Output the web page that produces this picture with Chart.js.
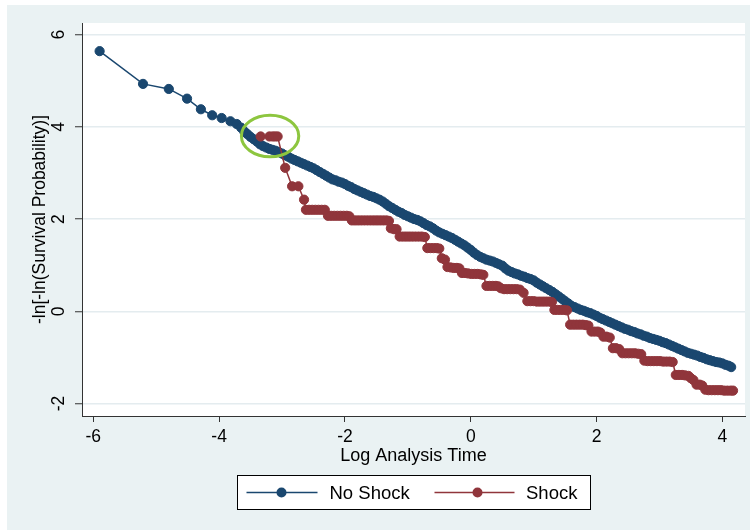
<!DOCTYPE html>
<html>
<head>
<meta charset="utf-8">
<title>Log-log survival plot</title>
<script src="https://cdn.jsdelivr.net/npm/chart.js@4.4.1/dist/chart.umd.min.js"></script>
<style>
  html, body { margin: 0; padding: 0; background: #fff; }
  #wrap { width: 752px; height: 531px; }
</style>
</head>
<body>
<div id="wrap"><canvas id="llChart" width="752" height="531"></canvas></div>
<script>
// ── Data ───────────────────────────────────────────────────
const xTicks = [-6, -4, -2, 0, 2, 4];
const yTicks = [-2, 0, 2, 4, 6];

const noShockX = [
  -5.90, -5.21, -4.80, -4.51, -4.29, -4.11, -3.96, -3.82, -3.72, -3.65,
  -3.60, -3.55, -3.50, -3.45, -3.40, -3.35, -3.30, -3.25, -3.20, -3.15,
  -3.10, -3.05, -3.00, -2.95, -2.90, -2.85, -2.80, -2.75, -2.70, -2.65,
  -2.60, -2.55, -2.50, -2.45, -2.40, -2.35, -2.30, -2.25, -2.20, -2.15,
  -2.10, -2.05, -2.00, -1.95, -1.90, -1.85, -1.80, -1.75, -1.70, -1.65,
  -1.60, -1.55, -1.50, -1.45, -1.40, -1.35, -1.30, -1.25, -1.20, -1.15,
  -1.10, -1.05, -1.00, -0.95, -0.90, -0.85, -0.80, -0.75, -0.70, -0.65,
  -0.60, -0.55, -0.50, -0.45, -0.40, -0.35, -0.30, -0.25, -0.20, -0.15,
  -0.10, -0.05, 0.00, 0.05, 0.10, 0.15, 0.20, 0.25, 0.30, 0.35,
  0.40, 0.45, 0.50, 0.55, 0.60, 0.65, 0.70, 0.75, 0.80, 0.85,
  0.90, 0.95, 1.00, 1.05, 1.10, 1.15, 1.20, 1.25, 1.30, 1.35,
  1.40, 1.45, 1.50, 1.55, 1.60, 1.65, 1.70, 1.75, 1.80, 1.85,
  1.90, 1.95, 2.00, 2.05, 2.10, 2.15, 2.20, 2.25, 2.30, 2.35,
  2.40, 2.45, 2.50, 2.55, 2.60, 2.65, 2.70, 2.75, 2.80, 2.85,
  2.90, 2.95, 3.00, 3.05, 3.10, 3.15, 3.20, 3.25, 3.30, 3.35,
  3.40, 3.45, 3.50, 3.55, 3.60, 3.65, 3.70, 3.75, 3.80, 3.85,
  3.90, 3.95, 4.00, 4.05, 4.10, 4.14
];
const noShockY = [
  5.64, 4.93, 4.82, 4.61, 4.38, 4.25, 4.19, 4.12, 4.06, 3.98,
  3.90, 3.84, 3.78, 3.73, 3.68, 3.62, 3.58, 3.55, 3.52, 3.50,
  3.48, 3.45, 3.42, 3.38, 3.35, 3.31, 3.28, 3.25, 3.22, 3.19,
  3.16, 3.13, 3.10, 3.06, 3.02, 2.98, 2.94, 2.90, 2.86, 2.84,
  2.81, 2.79, 2.76, 2.72, 2.69, 2.65, 2.62, 2.59, 2.56, 2.53,
  2.50, 2.48, 2.45, 2.42, 2.38, 2.33, 2.28, 2.24, 2.20, 2.16,
  2.13, 2.09, 2.06, 2.03, 2.00, 1.98, 1.95, 1.91, 1.87, 1.84,
  1.80, 1.75, 1.71, 1.68, 1.65, 1.62, 1.59, 1.55, 1.51, 1.47,
  1.43, 1.38, 1.33, 1.27, 1.22, 1.18, 1.15, 1.12, 1.10, 1.08,
  1.05, 1.02, 0.99, 0.93, 0.88, 0.85, 0.82, 0.80, 0.77, 0.75,
  0.72, 0.70, 0.67, 0.62, 0.58, 0.54, 0.50, 0.46, 0.42, 0.37,
  0.32, 0.27, 0.22, 0.17, 0.12, 0.09, 0.06, 0.03, 0.01, -0.02,
  -0.04, -0.07, -0.10, -0.14, -0.17, -0.20, -0.23, -0.26, -0.29, -0.32,
  -0.35, -0.38, -0.40, -0.43, -0.45, -0.48, -0.50, -0.53, -0.55, -0.58,
  -0.60, -0.62, -0.64, -0.67, -0.69, -0.72, -0.75, -0.78, -0.81, -0.84,
  -0.87, -0.90, -0.92, -0.94, -0.96, -0.99, -1.01, -1.04, -1.06, -1.08,
  -1.10, -1.11, -1.13, -1.16, -1.18, -1.21
];

const shockX = [
  -3.34, -3.20, -3.15, -3.11, -3.07, -2.95, -2.84, -2.74, -2.65, -2.62,
  -2.57, -2.52, -2.47, -2.42, -2.37, -2.32, -2.27, -2.22, -2.17, -2.12,
  -2.07, -2.02, -1.97, -1.93, -1.89, -1.84, -1.79, -1.74, -1.69, -1.64,
  -1.59, -1.54, -1.49, -1.44, -1.39, -1.34, -1.30, -1.27, -1.22, -1.18,
  -1.13, -1.08, -1.03, -0.98, -0.93, -0.88, -0.83, -0.78, -0.73, -0.69,
  -0.64, -0.59, -0.54, -0.50, -0.46, -0.41, -0.37, -0.32, -0.27, -0.22,
  -0.18, -0.14, -0.09, -0.04, 0.01, 0.06, 0.11, 0.16, 0.20, 0.25,
  0.30, 0.35, 0.40, 0.44, 0.48, 0.53, 0.58, 0.63, 0.68, 0.73,
  0.78, 0.84, 0.90, 0.95, 1.00, 1.05, 1.10, 1.15, 1.20, 1.25,
  1.29, 1.33, 1.38, 1.43, 1.48, 1.53, 1.58, 1.63, 1.68, 1.73,
  1.78, 1.83, 1.87, 1.92, 1.97, 2.02, 2.06, 2.11, 2.16, 2.21,
  2.26, 2.31, 2.36, 2.41, 2.46, 2.51, 2.56, 2.61, 2.66, 2.71,
  2.76, 2.81, 2.86, 2.91, 2.96, 3.01, 3.06, 3.11, 3.16, 3.21,
  3.26, 3.31, 3.36, 3.41, 3.46, 3.50, 3.54, 3.59, 3.64, 3.68,
  3.73, 3.78, 3.83, 3.88, 3.93, 3.98, 4.03, 4.08, 4.13, 4.17
];
const shockY = [
  3.79, 3.79, 3.79, 3.79, 3.79, 3.11, 2.71, 2.71, 2.42, 2.20,
  2.20, 2.20, 2.20, 2.20, 2.20, 2.20, 2.07, 2.07, 2.07, 2.07,
  2.07, 2.07, 2.07, 2.06, 1.97, 1.97, 1.97, 1.97, 1.97, 1.97,
  1.97, 1.97, 1.97, 1.97, 1.97, 1.97, 1.96, 1.80, 1.78, 1.78,
  1.62, 1.62, 1.62, 1.62, 1.62, 1.62, 1.62, 1.62, 1.61, 1.37,
  1.37, 1.37, 1.37, 1.36, 1.15, 1.12, 0.96, 0.95, 0.94, 0.94,
  0.93, 0.83, 0.83, 0.82, 0.81, 0.81, 0.81, 0.80, 0.79, 0.55,
  0.55, 0.55, 0.55, 0.54, 0.50, 0.48, 0.48, 0.48, 0.48, 0.48,
  0.47, 0.40, 0.22, 0.22, 0.22, 0.21, 0.21, 0.21, 0.21, 0.21,
  0.20, 0.03, 0.03, 0.03, 0.03, 0.02, -0.29, -0.29, -0.29, -0.29,
  -0.29, -0.30, -0.31, -0.44, -0.44, -0.44, -0.46, -0.55, -0.55, -0.57,
  -0.80, -0.80, -0.82, -0.91, -0.91, -0.91, -0.91, -0.91, -0.92, -0.93,
  -1.07, -1.08, -1.08, -1.08, -1.08, -1.08, -1.09, -1.09, -1.09, -1.10,
  -1.38, -1.38, -1.38, -1.39, -1.40, -1.45, -1.49, -1.59, -1.59, -1.61,
  -1.70, -1.71, -1.71, -1.71, -1.71, -1.71, -1.72, -1.72, -1.72, -1.72
];

// highlighted region (data units)
const marker = { x: -3.19, y: 3.80, rx: 0.456, ry: 0.45 };

// ── Colours ────────────────────────────────────────────────
const NAVY = '#1a476f';
const MAROON = '#90353b';
const BG = '#eaf2f3';
const GRID = '#e4ecef';
const AXIS = '#333';
const GREEN = '#8dc63f';

Chart.defaults.font.family = "'Liberation Sans', Arial, sans-serif";
Chart.defaults.color = '#000';

const toPts = (xs, ys) => xs.map((x, i) => ({ x, y: ys[i] }));

// ── Plugins ────────────────────────────────────────────────
const backdrop = {
  id: 'backdrop',
  beforeDraw(chart) {
    const { ctx, chartArea: a } = chart;
    ctx.save();
    ctx.fillStyle = '#fff';
    ctx.fillRect(0, 0, chart.width, chart.height);
    ctx.fillStyle = BG;
    ctx.fillRect(7, 5, chart.width - 9, chart.height - 6);
    ctx.fillStyle = '#fff';
    ctx.fillRect(a.left, a.top, a.right - a.left, a.bottom - a.top);
    ctx.restore();
  }
};

// y tick labels are drawn turned, as in the original
const yLabels = {
  id: 'yLabels',
  afterDraw(chart) {
    const s = chart.scales.y, ctx = chart.ctx;
    ctx.save();
    ctx.font = "17.5px 'Liberation Sans', Arial, sans-serif";
    ctx.fillStyle = '#000';
    ctx.textAlign = 'center';
    ctx.textBaseline = 'middle';
    s.ticks.forEach(t => {
      ctx.save();
      ctx.translate(s.right - 22.5, s.getPixelForValue(t.value));
      ctx.rotate(-Math.PI / 2);
      ctx.fillText(String(t.value), 0, 0);
      ctx.restore();
    });
    ctx.restore();
  }
};

const ring = {
  id: 'ring',
  afterDatasetsDraw(chart) {
    const { ctx, scales: { x, y } } = chart;
    const cx = x.getPixelForValue(marker.x);
    const cy = y.getPixelForValue(marker.y);
    const rx = x.getPixelForValue(marker.x + marker.rx) - cx;
    const ry = cy - y.getPixelForValue(marker.y + marker.ry);
    ctx.save();
    ctx.strokeStyle = GREEN;
    ctx.lineWidth = 3;
    ctx.beginPath();
    ctx.ellipse(cx, cy, rx, ry, 0, 0, Math.PI * 2);
    ctx.stroke();
    ctx.restore();
  }
};

const keyBox = {
  id: 'keyBox',
  afterDraw(chart) {
    const { ctx, chartArea: a } = chart;
    const w = 353, h = 34;
    const left = Math.round((a.left + a.right) / 2 - w / 2) + 0.5;
    const top = 475.5;
    const cy = top + h / 2;
    ctx.save();
    ctx.fillStyle = '#fff';
    ctx.fillRect(left, top, w, h);
    ctx.strokeStyle = '#000';
    ctx.lineWidth = 1;
    ctx.strokeRect(left, top, w, h);
    const items = [
      { label: 'No Shock', color: NAVY, x0: 9, x1: 80, dot: 44, tx: 92 },
      { label: 'Shock', color: MAROON, x0: 197, x1: 277, dot: 240, tx: 288.5 }
    ];
    ctx.font = "18.5px 'Liberation Sans', Arial, sans-serif";
    ctx.textBaseline = 'middle';
    items.forEach(it => {
      ctx.strokeStyle = it.color;
      ctx.lineWidth = 1.4;
      ctx.beginPath();
      ctx.moveTo(left + it.x0, cy);
      ctx.lineTo(left + it.x1, cy);
      ctx.stroke();
      ctx.fillStyle = it.color;
      ctx.beginPath();
      ctx.arc(left + it.dot, cy, 5, 0, Math.PI * 2);
      ctx.fill();
      ctx.fillStyle = '#000';
      ctx.fillText(it.label, left + it.tx, cy + 1);
    });
    ctx.restore();
  }
};

// ── Chart ──────────────────────────────────────────────────
const series = (label, xs, ys, color) => ({
  label,
  data: toPts(xs, ys),
  borderColor: color,
  backgroundColor: color,
  borderWidth: 1.5,
  pointRadius: 4.6,
  pointBorderWidth: 1,
  pointBackgroundColor: color,
  pointBorderColor: color,
  showLine: true,
  tension: 0,
});

new Chart(document.getElementById('llChart'), {
  type: 'scatter',
  data: {
    datasets: [
      series('Shock', shockX, shockY, MAROON),
      series('No Shock', noShockX, noShockY, NAVY)
    ]
  },
  options: {
    responsive: false,
    animation: false,
    layout: { padding: { left: 0, top: 23, right: 7, bottom: 62 } },
    plugins: { legend: { display: false }, tooltip: { enabled: false } },
    scales: {
      x: {
        type: 'linear',
        min: -6.18, max: 4.36,
        afterBuildTicks: s => { s.ticks = xTicks.map(v => ({ value: v })); },
        afterFit: s => { s.height = 53; },
        grid: { drawOnChartArea: false, tickLength: 6, tickColor: AXIS, tickWidth: 1 },
        border: { color: AXIS, width: 1 },
        ticks: { autoSkip: false, maxRotation: 0, padding: 5, font: { size: 17.5 }, color: '#000' },
        title: { display: true, text: 'Log Analysis Time', font: { size: 18 }, color: '#000', padding: { top: 0, bottom: 2.5 } }
      },
      y: {
        type: 'linear',
        min: -2.27, max: 6.25,
        afterBuildTicks: s => { s.ticks = yTicks.map(v => ({ value: v })); },
        afterFit: s => { s.width = 82; },
        grid: { color: GRID, lineWidth: 1.5, tickLength: 7, tickColor: AXIS, tickWidth: 1 },
        border: { color: AXIS, width: 1 },
        ticks: { display: false },
        title: { display: true, text: '-ln[-ln(Survival Probability)]', font: { size: 17.5 }, color: '#000', padding: { top: 29.5, bottom: 0 } }
      }
    }
  },
  plugins: [backdrop, ring, yLabels, keyBox]
});
</script>
</body>
</html>
